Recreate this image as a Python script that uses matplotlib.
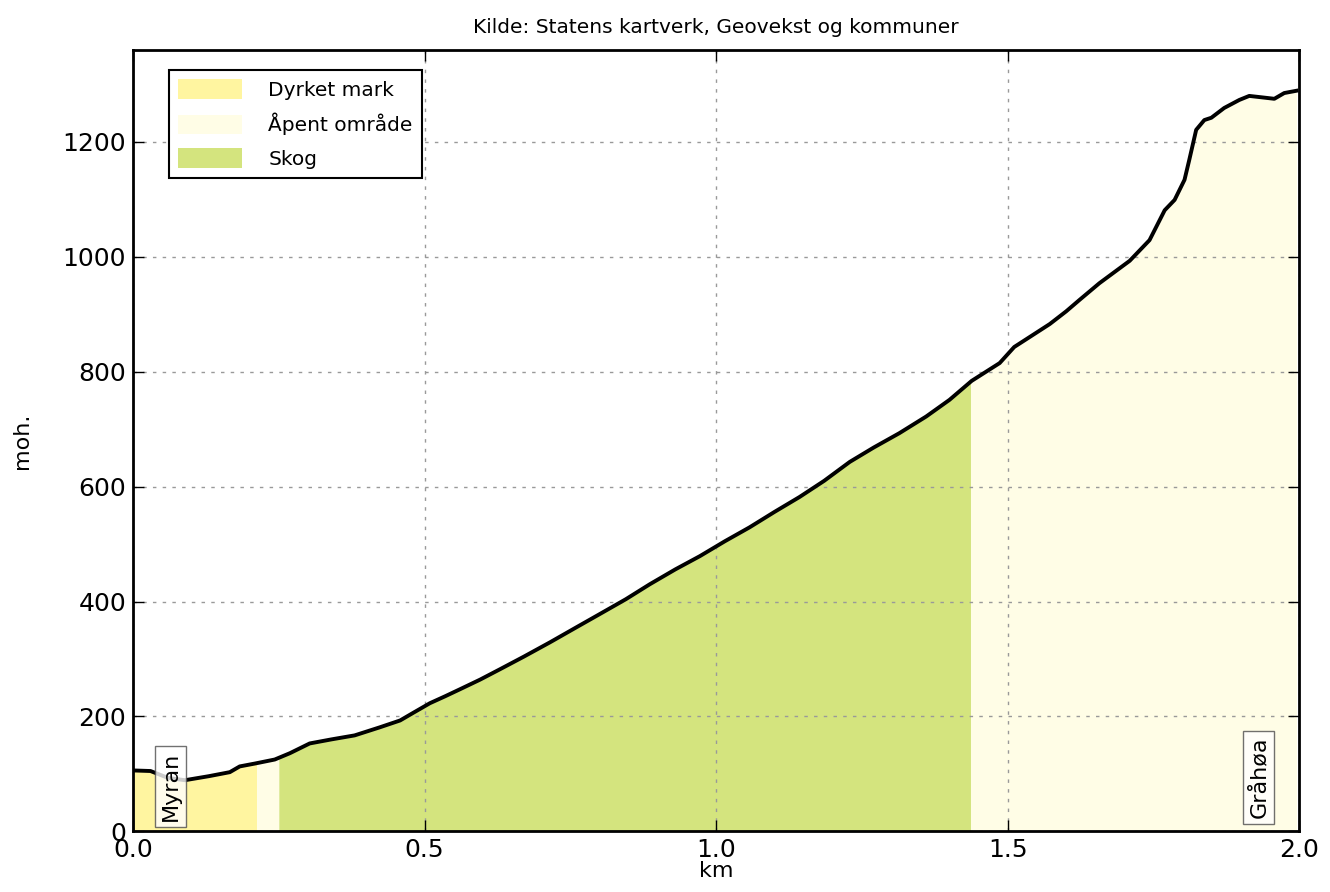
import numpy as np
import matplotlib
matplotlib.use('Agg')
from matplotlib import pyplot as plt
from matplotlib.patches import Patch

plt.rcParams['font.family'] = ['DejaVu Sans']

# høydeprofil, avstand i km og høyde i moh.
dist = [0.0, 0.03, 0.06, 0.089, 0.13, 0.166, 0.183, 0.209, 0.243, 0.269, 0.303,
        0.34, 0.38, 0.423, 0.458, 0.48, 0.509, 0.535, 0.56, 0.595, 0.629,
        0.67, 0.715, 0.76, 0.8, 0.845, 0.886, 0.93, 0.972, 1.015, 1.057,
        1.1, 1.143, 1.185, 1.229, 1.27, 1.314, 1.36, 1.4, 1.438, 1.486,
        1.511, 1.54, 1.572, 1.6, 1.623, 1.657, 1.685, 1.709, 1.743, 1.769,
        1.786, 1.803, 1.811, 1.823, 1.837, 1.849, 1.871, 1.897, 1.914, 1.94,
        1.957, 1.974, 1.995]
hoyde = [106, 105, 93, 89, 96, 103, 113, 118, 125, 136, 153,
         160, 167, 181, 193, 206, 223, 235, 247, 264, 282,
         304, 329, 355, 378, 404, 430, 456, 479, 505, 529,
         556, 582, 610, 643, 668, 693, 722, 751, 784, 815,
         843, 862, 883, 905, 925, 954, 975, 993, 1029, 1081,
         1099, 1134, 1168, 1221, 1238, 1242, 1259, 1273, 1280, 1277,
         1275, 1285, 1289]

# arealtype langs profilen
segment_start = [0.0, 0.212, 0.25, 1.436]
segment_slutt = [0.212, 0.25, 1.436, 1.995]
segment_type = ['Dyrket mark', 'Åpent område', 'Skog', 'Åpent område']
farger = {'Dyrket mark': '#fff5a0', 'Åpent område': '#fffde6', 'Skog': '#d4e47e'}
legend_rekkefolge = ['Dyrket mark', 'Åpent område', 'Skog']

steder = ['Myran', 'Gråhøa']
sted_km = [0.065, 1.93]
sted_moh = [78, 94]

dist = np.array(dist)
hoyde = np.array(hoyde)

fig = plt.figure(figsize=(13.3, 8.92), dpi=100)
ax = fig.add_axes([0.1, 0.068, 0.877, 0.876])

for a, b, t in zip(segment_start, segment_slutt, segment_type):
    inni = (dist > a) & (dist < b)
    xs = np.concatenate([[a], dist[inni], [b]])
    ys = np.interp(xs, dist, hoyde)
    ax.fill_between(xs, 0, ys, color=farger[t], lw=0)

ax.plot(dist, hoyde, color='black', lw=2.8, zorder=5)

for navn, x, y in zip(steder, sted_km, sted_moh):
    ax.text(x, y, navn, rotation=90, ha='center', va='center', fontsize=16,
            bbox=dict(facecolor='white', edgecolor='0.3', alpha=0.8, pad=4),
            zorder=6)

ax.set_xlim(0, 2.0)
ax.set_ylim(0, 1360)
ax.set_xticks([0.0, 0.5, 1.0, 1.5, 2.0])
ax.set_yticks([0, 200, 400, 600, 800, 1000, 1200])
ax.grid(True, color='0.6', linestyle=(0, (2.5, 4.5)), lw=1)
for gl in ax.get_xgridlines() + ax.get_ygridlines():
    gl.set_zorder(4)
ax.tick_params(direction='in', top=True, right=True, length=8, width=1,
               labelsize=18, pad=5)
for s in ax.spines.values():
    s.set_linewidth(2)
    s.set_zorder(7)

ax.set_xlabel('km', fontsize=16, labelpad=-1)
ax.set_ylabel('moh.', fontsize=16, labelpad=22)
ax.set_title('Kilde: Statens kartverk, Geovekst og kommuner', fontsize=14.5, pad=12)

handles = [Patch(facecolor=farger[t], edgecolor='none', label=t) for t in legend_rekkefolge]
leg = ax.legend(handles=handles, loc='upper left', fontsize=14.5, fancybox=False,
                framealpha=1, edgecolor='black', handlelength=3.2, handleheight=1.1,
                borderpad=0.45, labelspacing=0.65, handletextpad=1.3,
                bbox_to_anchor=(0.022, 0.987))
leg.get_frame().set_linewidth(1.5)
leg.set_zorder(8)

fig.savefig('out.png', dpi=100)
